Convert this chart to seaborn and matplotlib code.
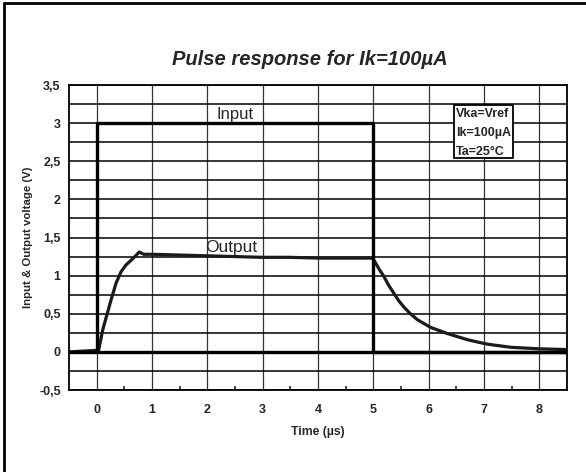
import numpy as np
import pandas as pd
import matplotlib
matplotlib.use("Agg")
import matplotlib.pyplot as plt
import seaborn as sns
from matplotlib.ticker import MultipleLocator, FixedLocator
from matplotlib.lines import Line2D
from matplotlib.patches import Rectangle

# Input step (V) vs time (us)
input_t = [-0.5, 0.0, 0.0, 5.0, 5.0, 8.5]
input_v = [0.0, 0.0, 3.0, 3.0, 0.0, 0.0]

# Output response
output_t = [-0.5, 0.0, 0.03, 0.11, 0.26, 0.35, 0.44, 0.53, 0.65, 0.77, 0.85, 1.0, 1.5,
            2.0, 2.5, 3.0, 3.5, 4.0, 4.5, 4.98, 5.03, 5.1, 5.19, 5.28, 5.37, 5.46,
            5.55, 5.67, 5.8, 5.92, 6.04, 6.19, 6.34, 6.52, 6.7, 6.88, 7.07, 7.28,
            7.49, 8.0, 8.5]
output_v = [0.0, 0.02, 0.0, 0.29, 0.68, 0.90, 1.05, 1.14, 1.22, 1.31, 1.28, 1.28, 1.27,
            1.26, 1.25, 1.24, 1.24, 1.23, 1.23, 1.23, 1.18, 1.09, 0.99, 0.87, 0.77,
            0.67, 0.59, 0.50, 0.42, 0.37, 0.32, 0.28, 0.24, 0.20, 0.16, 0.13, 0.10,
            0.08, 0.06, 0.04, 0.03]

y_ticks = [-0.5, 0, 0.5, 1, 1.5, 2, 2.5, 3, 3.5]
y_labels = ["-0,5", "0", "0,5", "1", "1,5", "2", "2,5", "3", "3,5"]
x_ticks = [0, 1, 2, 3, 4, 5, 6, 7, 8]
conditions = ["Vka=Vref", "Ik=100\u00b5A", "Ta=25\u00b0C"]

sns.set_style("white")
plt.rcParams["font.family"] = ["Liberation Sans", "DejaVu Sans"]

fig = plt.figure(figsize=(5.86, 4.72), dpi=100)
ax = fig.add_axes([0.1177, 0.1737, 0.8499, 0.6462])

df_in = pd.DataFrame({"t": input_t, "v": input_v})
df_out = pd.DataFrame({"t": output_t, "v": output_v})

sns.lineplot(data=df_out, x="t", y="v", ax=ax, color="#1a1a1a", lw=2.3,
             estimator=None, sort=False, zorder=4)
sns.lineplot(data=df_in, x="t", y="v", ax=ax, color="black", lw=2.4,
             estimator=None, sort=False, zorder=5)
ax.hlines(0, 0, 8.5, color="black", lw=2.4, zorder=5)

ax.set_xlim(-0.5, 8.5)
ax.set_ylim(-0.5, 3.5)

ax.xaxis.set_major_locator(FixedLocator(x_ticks))
ax.xaxis.set_minor_locator(FixedLocator([i + 0.5 for i in x_ticks]))
ax.set_yticks(y_ticks)
ax.set_yticklabels(y_labels)
ax.yaxis.set_minor_locator(MultipleLocator(0.25))

ax.grid(True, which="both", axis="y", color="black", lw=1.1)
ax.grid(True, which="major", axis="x", color="#333333", lw=0.9)
ax.set_axisbelow(True)

ax.tick_params(axis="both", which="major", length=0, labelsize=9, pad=10)
ax.tick_params(axis="y", which="major", pad=6)
ax.tick_params(axis="y", which="minor", length=0)
ax.tick_params(axis="x", which="minor", direction="in", length=3, width=1.2,
               bottom=True, top=False)
for lbl in ax.get_xticklabels() + ax.get_yticklabels():
    lbl.set_fontweight("bold")

for s in ax.spines.values():
    s.set_color("black")
    s.set_linewidth(1.3)

ax.set_xlabel("Time (\u00b5s)", fontsize=8.8, fontweight="bold", labelpad=7)
ax.set_ylabel("Input & Output voltage (V)", fontsize=8.2, fontweight="bold", labelpad=4)

ax.text(2.5, 3.02, "Input", fontsize=12, ha="center", va="bottom", zorder=6)
ax.text(2.43, 1.27, "Output", fontsize=12.5, ha="center", va="bottom", zorder=6)

ax.add_patch(Rectangle((6.45, 2.54), 1.08, 0.70, facecolor="white",
                       edgecolor="black", lw=1.3, zorder=6))
for i, c in enumerate(conditions):
    ax.text(6.49, 3.115 - 0.25 * i, c, fontsize=9, fontweight="bold",
            ha="left", va="center", zorder=7)

fig.text(0.529, 0.873, "Pulse response for Ik=100\u00b5A", fontsize=14.5,
         fontweight="bold", fontstyle="italic", ha="center", va="center")

fig.add_artist(Line2D([0.006, 0.006], [0, 0.994], transform=fig.transFigure,
                      color="black", lw=2))
fig.add_artist(Line2D([0.006, 1], [0.994, 0.994], transform=fig.transFigure,
                      color="black", lw=2))

fig.savefig("out.png", dpi=100)
